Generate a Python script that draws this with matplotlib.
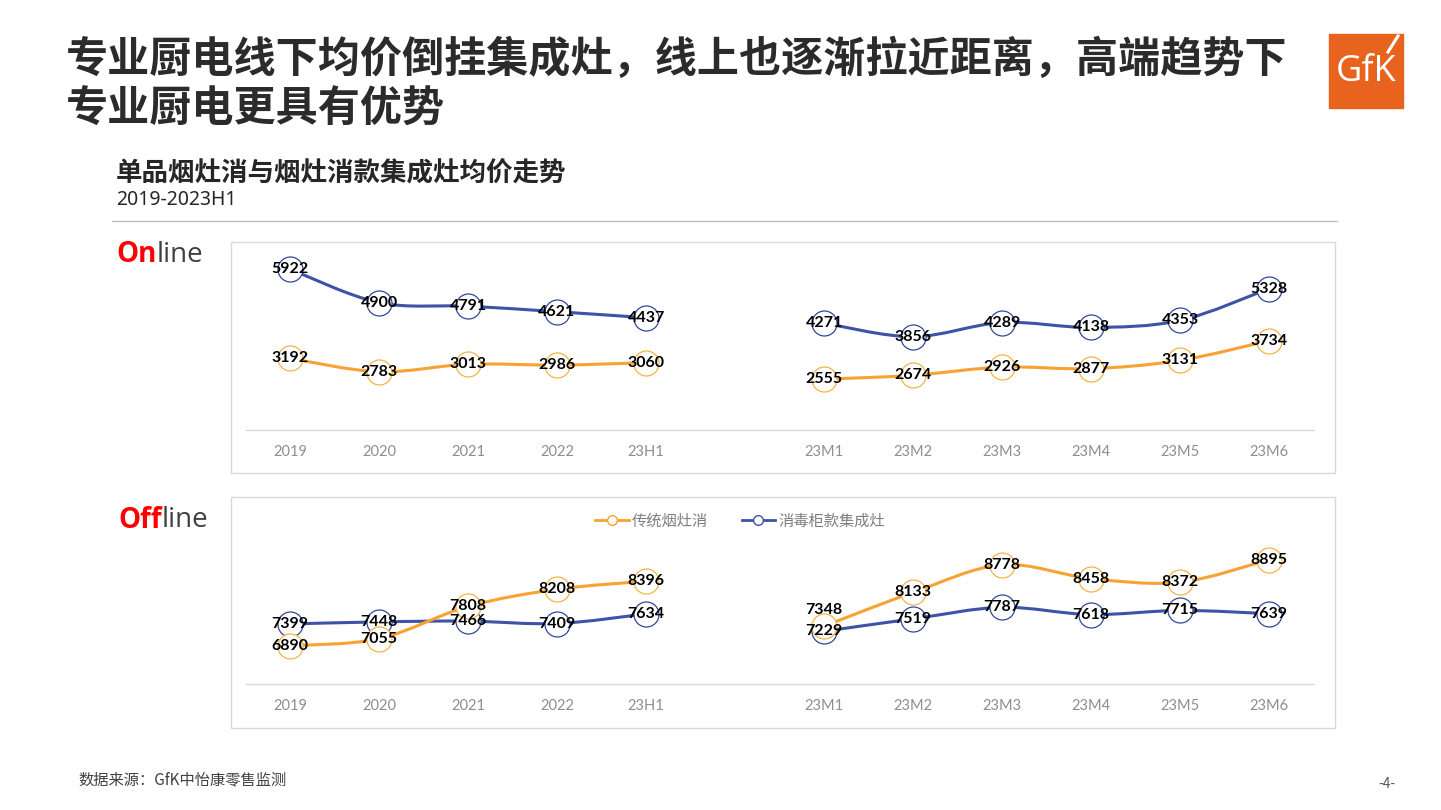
import numpy as np
import matplotlib
matplotlib.use('agg')
import matplotlib.pyplot as plt
from matplotlib.path import Path
from matplotlib.patches import PathPatch, Rectangle
from matplotlib.lines import Line2D

plt.rcParams['font.family'] = ['Noto Sans CJK SC', 'DejaVu Sans']

# 数据
categories = ['2019', '2020', '2021', '2022', '23H1', '',
              '23M1', '23M2', '23M3', '23M4', '23M5', '23M6']
series_names = ['传统烟灶消', '消毒柜款集成灶']
online_trad = [3192, 2783, 3013, 2986, 3060, np.nan, 2555, 2674, 2926, 2877, 3131, 3734]
online_integ = [5922, 4900, 4791, 4621, 4437, np.nan, 4271, 3856, 4289, 4138, 4353, 5328]
offline_trad = [6890, 7055, 7808, 8208, 8396, np.nan, 7348, 8133, 8778, 8458, 8372, 8895]
offline_integ = [7399, 7448, 7466, 7409, 7634, np.nan, 7229, 7519, 7787, 7618, 7715, 7639]

ORANGE = '#F7A233'
ORANGE_EDGE = '#F5B445'
BLUE = '#3D53A6'
BLUE_EDGE = '#33479A'

W, H = 1441, 810
fig = plt.figure(figsize=(W / 100, H / 100), dpi=100)


def fx(px):
    return px / W


def fy(py):
    return 1 - py / H


def smooth_path(xs, ys):
    # 类似 Excel 平滑线的三次贝塞尔曲线
    pts = np.column_stack([xs, ys])
    n = len(pts)
    verts = [pts[0]]
    codes = [Path.MOVETO]
    for i in range(n - 1):
        p0 = pts[max(i - 1, 0)]
        p1 = pts[i]
        p2 = pts[i + 1]
        p3 = pts[min(i + 2, n - 1)]
        c1 = p1 + (p2 - p0) / 6
        c2 = p2 - (p3 - p1) / 6
        verts += [c1, c2, p2]
        codes += [Path.CURVE4] * 3
    return Path(verts, codes)


def draw_series(ax, vals, color, edge, label_offsets):
    x = np.arange(len(vals))
    v = np.array(vals, dtype=float)
    # 分段绘制（年度与月度之间断开）
    ok = ~np.isnan(v)
    seg_start = None
    for i in range(len(v) + 1):
        if i < len(v) and ok[i]:
            if seg_start is None:
                seg_start = i
        else:
            if seg_start is not None:
                xs = x[seg_start:i]
                ys = v[seg_start:i]
                ax.add_patch(PathPatch(smooth_path(xs, ys), fill=False, ec=color,
                                       lw=2.2, zorder=2, capstyle='round'))
                seg_start = None
    ax.plot(x[ok], v[ok], 'o', ms=18, mfc='white', mec=edge, mew=0.9, zorder=3)
    for i in x[ok]:
        dy = label_offsets.get(i, 0)
        ax.annotate(f'{int(v[i])}', (i, v[i]), xytext=(0, dy), textcoords='offset points',
                    ha='center', va='center', fontsize=11.5, fontweight='bold',
                    family='Lato', color='black', zorder=4)


def make_panel(box_top, box_bottom, base_py, scale, ylo, yhi, trad, integ, offs_trad):
    fig.patches.append(Rectangle((fx(231), fy(box_bottom)), fx(1335) - fx(231),
                                 fy(box_top) - fy(box_bottom), transform=fig.transFigure,
                                 fill=False, ec='#D9D9D9', lw=1.0))
    h = (yhi - ylo) * scale
    ax = fig.add_axes([fx(245.5), fy(base_py), (1313.5 - 245.5) / W, h / H])
    ax.set_xlim(-0.5, len(categories) - 0.5)
    ax.set_ylim(ylo, yhi)
    for s in ['top', 'right', 'left']:
        ax.spines[s].set_visible(False)
    ax.spines['bottom'].set_color('#D9D9D9')
    ax.spines['bottom'].set_linewidth(1.0)
    ax.set_yticks([])
    ax.set_xticks(range(len(categories)))
    ax.set_xticklabels(categories, family='Lato', fontsize=10.5, color='#8E8E8E')
    ax.tick_params(axis='x', length=0, pad=10.5)
    ax.patch.set_visible(False)
    draw_series(ax, integ, BLUE, BLUE_EDGE, {})
    draw_series(ax, trad, ORANGE, ORANGE_EDGE, offs_trad)
    return ax


make_panel(242, 473, 430, 0.03267, 1000, 6500, online_trad, online_integ, {})
make_panel(497, 728, 684, 0.0429, 6000, 10000, offline_trad, offline_integ, {6: 12})

# 图例
handles = [Line2D([], [], color=ORANGE, lw=2, marker='o', ms=7, mfc='white', mec=ORANGE),
           Line2D([], [], color=BLUE, lw=2, marker='o', ms=7, mfc='white', mec=BLUE)]
fig.legend(handles, series_names, loc='center', bbox_to_anchor=(fx(740), fy(521)),
           ncol=2, frameon=False, handlelength=2.2, handletextpad=0.2, columnspacing=2.2,
           prop={'family': ['Noto Sans CJK SC', 'DejaVu Sans'], 'size': 11},
           labelcolor='#7F7F7F')

# 标题
title_col = '#2B2B2B'
fig.text(fx(66), fy(60), '专业厨电线下均价倒挂集成灶，线上也逐渐拉近距离，高端趋势下',
         fontsize=30.3, fontweight='bold', color=title_col, va='center', ha='left')
fig.text(fx(66), fy(110), '专业厨电更具有优势',
         fontsize=30.3, fontweight='bold', color=title_col, va='center', ha='left')
fig.text(fx(116), fy(174), '单品烟灶消与烟灶消款集成灶均价走势',
         fontsize=19.1, fontweight='bold', color='#262626', va='center', ha='left')
fig.text(fx(116), fy(200), '2019-2023H1', fontsize=14, color='#262626',
         va='center', ha='left', family=['Noto Sans', 'DejaVu Sans'])
fig.add_artist(Line2D([fx(112), fx(1337)], [fy(221), fy(221)], color='#BFBFBF', lw=1.0))

# Online / Offline
fig.canvas.draw()
renderer = fig.canvas.get_renderer()
for word, rest, py, px in [('On', 'line', 255, 116), ('Off', 'line', 520, 118)]:
    t = fig.text(fx(px), fy(py), word, fontsize=20, fontweight='bold', color='#FF0000',
                 family='Open Sans', va='center', ha='left')
    bb = t.get_window_extent(renderer)
    fig.text(bb.x1 / W, fy(py), rest, fontsize=20, color='#404040',
             family='Open Sans', va='center', ha='left')

# GfK 标志
fig.patches.append(Rectangle((fx(1329), fy(108)), fx(1403) - fx(1329), fy(34) - fy(108),
                             transform=fig.transFigure, color='#E8641E'))
fig.text(fx(1366), fy(72), 'GfK', fontsize=26, color='white', family='Open Sans',
         va='center', ha='center')
fig.add_artist(Line2D([fx(1398), fx(1388)], [fy(36), fy(52)], color='white', lw=2.2))

# 页脚
fig.text(fx(78), fy(780), '数据来源：GfK中怡康零售监测', fontsize=11, color='#404040',
         va='center', ha='left')
fig.text(fx(1387), fy(784), '-4-', fontsize=10, color='#595959', va='center', ha='center')

fig.savefig('out.png', dpi=100)
